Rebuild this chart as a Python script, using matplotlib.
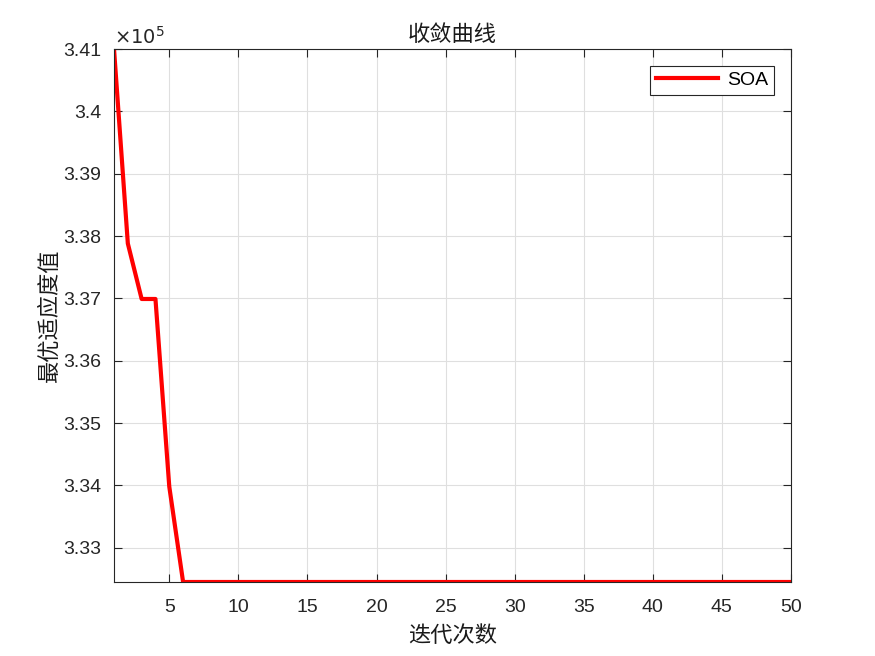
import matplotlib
matplotlib.use('Agg')
import matplotlib.pyplot as plt
from matplotlib.ticker import FuncFormatter, MultipleLocator

plt.rcParams['font.family'] = ['Liberation Sans', 'DejaVu Sans']

# convergence curve values
iters = list(range(1, 51))
best_fit = [341000, 337880, 336990, 336990, 333980] + [332450] * 45
title_txt = "收敛曲线"
xlabel_txt = "迭代次数"
ylabel_txt = "最优适应度值"
legend_txt = "SOA"

cjk = ['Noto Sans CJK SC', 'DejaVu Sans']

fig = plt.figure(figsize=(8.75, 6.56), dpi=100)
ax = fig.add_axes([0.1303, 0.1128, 0.7737, 0.8125])
ax.plot(iters, best_fit, color='#ff0000', lw=3, label=legend_txt)

ax.set_xlim(min(iters), max(iters))
ax.set_ylim(min(best_fit), max(best_fit))
ax.xaxis.set_major_locator(MultipleLocator(5))
ax.yaxis.set_major_locator(MultipleLocator(1000))
ax.yaxis.set_major_formatter(FuncFormatter(lambda v, p: f"{v / 1e5:.3f}".rstrip('0').rstrip('.')))
ax.xaxis.set_major_formatter(FuncFormatter(lambda v, p: f"{int(v)}" if v % 5 == 0 else ""))

ax.grid(True, color='#dfdfdf', lw=0.8)
ax.set_axisbelow(True)
ax.tick_params(direction='in', length=6, width=0.8, labelsize=14, colors='#262626',
               top=True, right=True, labeltop=False, labelright=False)
ax.tick_params(axis='y', pad=9)
ax.tick_params(axis='x', pad=12)
for s in ax.spines.values():
    s.set_color('#262626')
    s.set_linewidth(0.8)

ax.text(0.0, 1.003, r"$\times10^5$", transform=ax.transAxes, fontsize=14, color='#262626',
        ha='left', va='bottom')

ax.set_title(title_txt, family=cjk, fontsize=16, color='#1a1a1a', pad=6)
ax.set_xlabel(xlabel_txt, family=cjk, fontsize=16, color='#1a1a1a', labelpad=6)
ax.set_ylabel(ylabel_txt, family=cjk, fontsize=16, color='#1a1a1a', labelpad=2)

leg = ax.legend(loc='upper right', fontsize=14, fancybox=False, framealpha=1,
                edgecolor='#262626', handlelength=3.2, borderaxespad=0.85,
                borderpad=0.3, handletextpad=0.5)
leg.get_frame().set_linewidth(0.8)

fig.savefig('out.png', dpi=100)
